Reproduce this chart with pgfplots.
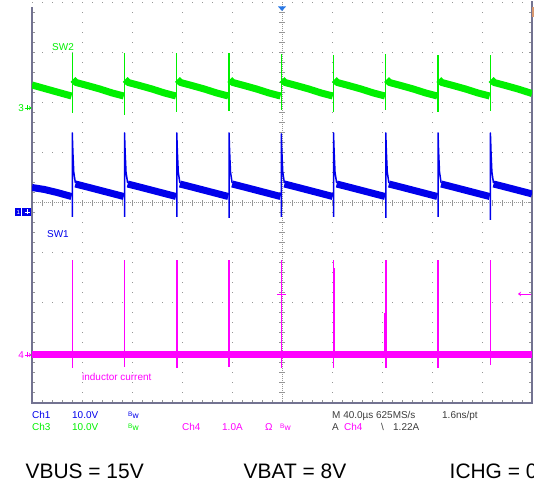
\documentclass[border=0pt]{standalone}
\usepackage{fontspec}
\setmainfont{Liberation Sans}
\usepackage{pgfplots}
\pgfplotsset{compat=1.18}
\usetikzlibrary{arrows.meta}
\definecolor{scgreen}{RGB}{0,240,0}
\definecolor{scblue}{RGB}{0,0,235}
\definecolor{scmag}{RGB}{255,0,255}
\definecolor{scgrid}{RGB}{150,150,150}
\definecolor{scborder}{RGB}{115,115,145}
\definecolor{sctext}{RGB}{60,60,60}
\definecolor{sctrig}{RGB}{40,120,230}
\definecolor{scorange}{RGB}{215,150,110}
\newcommand{\scf}{\fontsize{10}{12}\selectfont}
\newcommand{\bw}{\raisebox{2bp}{\fontsize{6.5}{7}\selectfont B}{\fontsize{8.5}{9}\selectfont w}}
\begin{document}
\begin{tikzpicture}[x=1bp,y=1bp]
\path (0,0) rectangle (534,487);
% ---- graticule ----
\begin{scope}[scgrid, line width=1bp]
\foreach \X in {82,132,182,232,332,382,432,482} \draw[dash pattern=on 1bp off 9bp] (\X,84) -- (\X,484);
\foreach \Y in {134,184,234,334,384,434,484} \draw[dash pattern=on 1bp off 9bp] (32,\Y) -- (532,\Y);
\draw[dash pattern=on 1bp off 1bp] (282,84) -- (282,484);
\draw[dash pattern=on 1bp off 1bp] (32,284) -- (532,284);
\foreach \Y in {94,104,...,474} \draw (279,\Y) -- (285,\Y);
\foreach \X in {42,52,...,522} \draw (\X,281) -- (\X,287);
\foreach \Y in {94,104,...,474} {\draw (32,\Y) -- (35,\Y); \draw (529,\Y) -- (532,\Y);}
\foreach \X in {42,52,...,522} \draw (\X,84) -- (\X,87);
\end{scope}
\draw[scborder, line width=1.3bp] (32,480) -- (32,84) -- (532,84) -- (532,486);
\fill[scorange] (531.5,470) rectangle (534,480);
% ---- traces ----
\begin{axis}[at={(32bp,84bp)}, anchor=south west, scale only axis,
  width=500bp, height=400bp, xmin=0, xmax=400, ymin=-4, ymax=4,
  hide axis, unbounded coords=jump, line cap=butt, line join=round]
% SW2 (Ch3) band
\addplot[scgreen, line width=7bp, no markers] coordinates {
(0,2.36) (10,2.29) (20,2.22) (31.6,2.14) (31.7,nan)
(32.8,2.47) (35.2,2.41) (44.2,2.35) (54.2,2.28) (64.2,2.20) (73.4,2.14) (73.5,nan)
(74.6,2.47) (77.0,2.41) (86.0,2.35) (96.0,2.28) (106.0,2.20) (115.2,2.14) (115.3,nan)
(116.4,2.47) (118.8,2.41) (127.8,2.35) (137.8,2.28) (147.8,2.20) (157.0,2.14) (157.1,nan)
(158.2,2.47) (160.6,2.41) (169.6,2.35) (179.6,2.28) (189.6,2.20) (198.8,2.14) (198.9,nan)
(200.0,2.47) (202.4,2.41) (211.4,2.35) (221.4,2.28) (231.4,2.20) (240.6,2.14) (240.7,nan)
(241.8,2.47) (244.2,2.41) (253.2,2.35) (263.2,2.28) (273.2,2.20) (282.4,2.14) (282.5,nan)
(283.6,2.47) (286.0,2.41) (295.0,2.35) (305.0,2.28) (315.0,2.20) (324.2,2.14) (324.3,nan)
(325.4,2.47) (327.8,2.41) (336.8,2.35) (346.8,2.28) (356.8,2.20) (366.1,2.14) (366.2,nan)
(367.3,2.47) (369.7,2.41) (378.7,2.35) (388.7,2.28) (400,2.19)};
% SW2 spikes
\addplot[scgreen, line width=1.3bp, no markers] coordinates {
(32.2,1.80) (32.2,3.00) (32.3,nan)
(74.0,1.76) (74.0,3.00) (74.1,nan)
(115.8,1.82) (115.8,3.00) (115.9,nan)
(157.6,1.84) (157.6,3.00) (157.7,nan)
(199.4,1.86) (199.4,2.97) (199.5,nan)
(241.2,1.82) (241.2,2.96) (241.3,nan)
(283.0,1.86) (283.0,2.98) (283.1,nan)
(324.8,1.82) (324.8,2.95) (324.9,nan)
(366.7,1.84) (366.7,2.96)};
% SW1 (Ch1) band
\addplot[scblue, line width=7bp, no markers] coordinates {
(0,0.31) (10,0.27) (20,0.21) (31.6,0.13) (31.7,nan)
(34.7,0.38) (44.2,0.32) (54.2,0.255) (64.2,0.19) (73.4,0.13) (73.5,nan)
(76.5,0.38) (86.0,0.32) (96.0,0.255) (106.0,0.19) (115.2,0.13) (115.3,nan)
(118.3,0.38) (127.8,0.32) (137.8,0.255) (147.8,0.19) (157.0,0.13) (157.1,nan)
(160.1,0.38) (169.6,0.32) (179.6,0.255) (189.6,0.19) (198.8,0.13) (198.9,nan)
(201.9,0.38) (211.4,0.32) (221.4,0.255) (231.4,0.19) (240.6,0.13) (240.7,nan)
(243.7,0.38) (253.2,0.32) (263.2,0.255) (273.2,0.19) (282.4,0.13) (282.5,nan)
(285.5,0.38) (295.0,0.32) (305.0,0.255) (315.0,0.19) (324.2,0.13) (324.3,nan)
(327.3,0.38) (336.8,0.32) (346.8,0.255) (356.8,0.19) (366.1,0.13) (366.2,nan)
(369.2,0.38) (378.7,0.32) (388.7,0.255) (398.7,0.19) (400,0.18)};
% SW1 spikes with decaying tail
\addplot[scblue, line width=1.5bp, no markers] coordinates {
(32.2,-0.28) (32.2,1.40) (32.7,1.02) (33.4,0.62) (34.7,0.40) (34.8,nan)
(74.0,-0.28) (74.0,1.40) (74.5,1.02) (75.2,0.62) (76.5,0.40) (76.6,nan)
(115.8,-0.28) (115.8,1.40) (116.3,1.02) (117.0,0.62) (118.3,0.40) (118.4,nan)
(157.6,-0.30) (157.6,1.40) (158.1,1.02) (158.8,0.62) (160.1,0.40) (160.2,nan)
(199.4,-0.28) (199.4,1.38) (199.9,1.02) (200.6,0.62) (201.9,0.40) (202.0,nan)
(241.2,-0.28) (241.2,1.40) (241.7,1.02) (242.4,0.62) (243.7,0.40) (243.8,nan)
(283.0,-0.30) (283.0,1.40) (283.5,1.02) (284.2,0.62) (285.5,0.40) (285.6,nan)
(324.8,-0.28) (324.8,1.40) (325.3,1.02) (326.0,0.62) (327.3,0.40) (327.4,nan)
(366.7,-0.34) (366.7,1.40) (367.2,1.02) (367.9,0.62) (369.2,0.40)};
% inductor current (Ch4) band
\addplot[scmag, line width=7bp, no markers] coordinates {(0,-3.03) (400,-3.03)};
% inductor current spikes
\addplot[scmag, line width=1.5bp, no markers] coordinates {
(32.2,-3.30) (32.2,-1.15) (32.3,nan)
(74.0,-3.28) (74.0,-1.15) (74.1,nan)
(115.8,-3.30) (115.8,-1.15) (115.9,nan)
(157.6,-3.28) (157.6,-1.15) (157.7,nan)
(199.4,-3.30) (199.4,-1.15) (199.5,nan)
(241.2,-3.30) (241.2,-1.15) (241.3,nan)
(242.0,-3.00) (242.0,-1.30) (242.1,nan)
(282.4,-3.00) (282.4,-2.20) (282.5,nan)
(283.0,-3.30) (283.0,-1.15) (283.1,nan)
(324.8,-3.30) (324.8,-1.15) (324.9,nan)
(366.7,-3.24) (366.7,-1.15)};
\end{axis}
% ---- screen labels and markers ----
\node[scgreen, anchor=west, inner sep=0, font=\scf] at (52,440) {SW2};
\node[scblue, anchor=west, inner sep=0, font=\scf] at (47,253) {SW1};
\node[scmag, anchor=west, inner sep=0, font=\scf] at (82,110) {inductor current};
% channel markers
\node[scgreen, anchor=east, inner sep=0, font=\scf] at (24,379) {3};
\draw[scgreen, line width=0.9bp, -{Stealth[length=2.5bp,width=4bp]}] (24.5,379) -- (31.5,379);
\draw[scgreen, line width=0.9bp] (27.5,376.5) -- (27.5,381.5);
\node[scmag, anchor=east, inner sep=0, font=\scf] at (24,132) {4};
\draw[scmag, line width=0.9bp, -{Stealth[length=2.5bp,width=4bp]}] (24.5,132) -- (31.5,132);
\draw[scmag, line width=0.9bp] (27.5,129.5) -- (27.5,134.5);
\fill[scblue] (15,271) rectangle (31,279);
\draw[white, line width=1bp] (21.5,271) -- (21.5,279);
\node[white, inner sep=0, font=\fontsize{6}{6}\selectfont] at (18.2,275) {1};
\draw[white, line width=0.8bp] (24.5,275) -- (29.5,275) (27,272.5) -- (27,277.5);
% trigger markers
\draw[scmag, line width=0.9bp, -{Stealth[length=3bp,width=4.5bp]}] (531,193) -- (518,193);
\draw[scmag, line width=0.9bp] (277,193) -- (286,193) (281.5,190) -- (281.5,196);
\fill[sctrig] (278,480.5) -- (286,480.5) -- (282,476) -- cycle;
% ---- scope readout ----
\begin{scope}[every node/.style={anchor=base west, inner sep=0, font=\scf}]
\node[scblue] at (32,68) {Ch1};
\node[scblue] at (72,68) {10.0V};
\node[scblue] at (128,68) {\bw};
\node[scgreen] at (32,56) {Ch3};
\node[scgreen] at (72,56) {10.0V};
\node[scgreen] at (128,56) {\bw};
\node[scmag] at (182,56) {Ch4};
\node[scmag] at (222,56) {1.0A};
\node[scmag] at (265,56) {Ω};
\node[scmag] at (280,56) {\bw};
\node[sctext] at (332,68) {M 40.0µs 625MS/s};
\node[sctext] at (442,68) {1.6ns/pt};
\node[sctext] at (332,56) {A};
\node[scmag] at (344,56) {Ch4};
\node[sctext] at (381,56) {\textbackslash};
\node[sctext] at (393,56) {1.22A};
\end{scope}
% ---- captions ----
\begin{scope}[every node/.style={anchor=base west, inner sep=0, font=\fontsize{21}{25}\selectfont}]
\node at (25.5,8.6) {VBUS = 15V};
\node at (243.5,8.6) {VBAT = 8V};
\node[overlay] at (449.5,8.6) {ICHG = 0A};
\end{scope}
\pgfresetboundingbox
\useasboundingbox (0,0) rectangle (534,487);
\end{tikzpicture}
\end{document}
